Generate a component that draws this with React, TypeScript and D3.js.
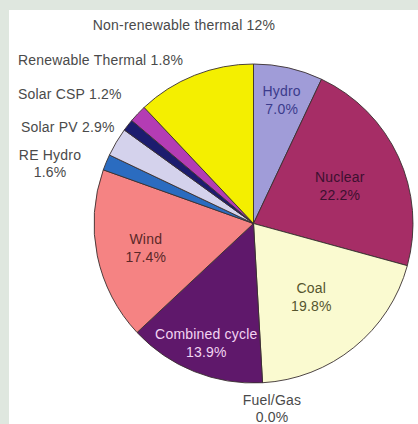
import React from 'react';
import * as d3 from 'd3';

// generation mix, clockwise from 12 o'clock
const categories = [
  'Hydro', 'Nuclear', 'Coal', 'Fuel/Gas', 'Combined cycle', 'Wind',
  'RE Hydro', 'Solar PV', 'Solar CSP', 'Renewable Thermal', 'Non-renewable thermal',
];
const shares = [7.0, 22.2, 19.8, 0.0, 13.9, 17.4, 1.6, 2.9, 1.2, 1.8, 12];
const shareLabels = ['7.0%', '22.2%', '19.8%', '0.0%', '13.9%', '17.4%', '1.6%', '2.9%', '1.2%', '1.8%', '12%'];

const colors: Record<string, string> = {
  'Hydro': '#a09cd8',
  'Nuclear': '#a62d66',
  'Coal': '#fafad0',
  'Fuel/Gas': '#888888',
  'Combined cycle': '#5f186b',
  'Wind': '#f58383',
  'RE Hydro': '#2b6cc0',
  'Solar PV': '#d4d2ec',
  'Solar CSP': '#1c1c6e',
  'Renewable Thermal': '#b43cb4',
  'Non-renewable thermal': '#f4ef00',
};

// labels drawn inside the slice, at a radius per slice
const insideLabels: Record<string, { r: number; fill: string }> = {
  'Hydro': { r: 129, fill: '#3b3b8c' },
  'Nuclear': { r: 95, fill: '#3d1030' },
  'Coal': { r: 92, fill: '#55552e' },
  'Combined cycle': { r: 127, fill: '#f2d4f2' },
  'Wind': { r: 110, fill: '#5a2828' },
};

// labels set outside the pie
const outsideLabels: Record<string, { x: number; y: number; anchor: string; split: boolean }> = {
  'Non-renewable thermal': { x: 184, y: 25, anchor: 'middle', split: false },
  'Renewable Thermal': { x: 18, y: 60, anchor: 'start', split: false },
  'Solar CSP': { x: 18, y: 94, anchor: 'start', split: false },
  'Solar PV': { x: 21, y: 127, anchor: 'start', split: false },
  'RE Hydro': { x: 50, y: 155, anchor: 'middle', split: true },
  'Fuel/Gas': { x: 272, y: 400, anchor: 'middle', split: true },
};

const W = 418;
const H = 424;
const cx = 253.5;
const cy = 223.5;
const R = 159.5;
const FONT = '"Liberation Sans", Arial, Helvetica, sans-serif';
const FS = 14;
const LS = 0.2;

export default function App() {
  const data = categories.map((c, i) => ({ name: c, value: shares[i], label: shareLabels[i] }));
  const pie = d3.pie<{ name: string; value: number; label: string }>()
    .sort(null)
    .value(d => d.value);
  const arcs = pie(data);
  const arc = d3.arc<d3.PieArcDatum<any>>().innerRadius(0).outerRadius(R);

  return (
    <svg width={W} height={H} style={{ position: 'fixed', left: 0, top: 0 }}>
      <rect x={0} y={0} width={W} height={H} fill="#dfe7df" />
      <rect x={9} y={10} width={W - 9} height={H - 10} fill="#ffffff" />
      <g transform={`translate(${cx},${cy})`}>
        {arcs.filter(a => a.data.value > 0).map(a => (
          <path key={a.data.name} d={arc(a) || ''} fill={colors[a.data.name]}
            stroke="#3a3030" strokeWidth={0.9} strokeLinejoin="round" />
        ))}
        {arcs.filter(a => insideLabels[a.data.name]).map(a => {
          const cfg = insideLabels[a.data.name];
          const lab = d3.arc<d3.PieArcDatum<any>>().innerRadius(cfg.r).outerRadius(cfg.r);
          const [x, y] = lab.centroid(a);
          return (
            <text key={a.data.name} x={x} y={y} textAnchor="middle" fill={cfg.fill}
              fontFamily={FONT} fontSize={FS} letterSpacing={LS}>
              <tspan x={x} dy="-0.15em">{a.data.name}</tspan>
              <tspan x={x} dy="1.3em">{a.data.label}</tspan>
            </text>
          );
        })}
      </g>
      {data.filter(d => outsideLabels[d.name]).map(d => {
        const o = outsideLabels[d.name];
        return (
          <text key={d.name} x={o.x} y={o.y} textAnchor={o.anchor} fill="#4a4a4a"
            fontFamily={FONT} fontSize={FS} letterSpacing={LS} dominantBaseline="central">
            {o.split ? (
              <>
                <tspan x={o.x}>{d.name}</tspan>
                <tspan x={o.x} dy="1.2em">{d.label}</tspan>
              </>
            ) : `${d.name} ${d.label}`}
          </text>
        );
      })}
    </svg>
  );
}
